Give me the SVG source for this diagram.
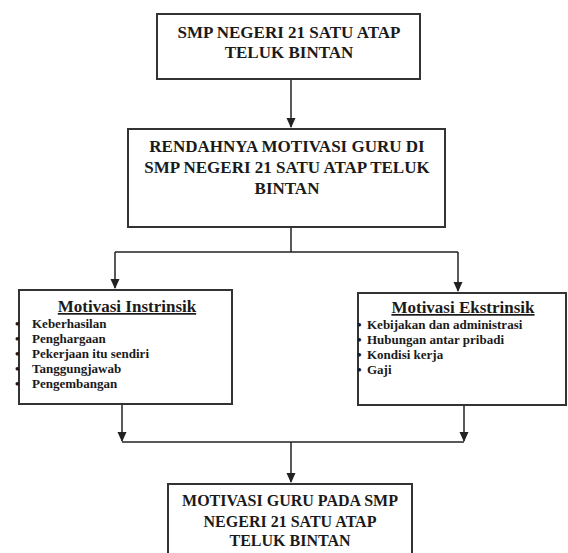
<svg xmlns="http://www.w3.org/2000/svg" width="568" height="553" viewBox="0 0 568 553">
<defs>
<marker id="arr" markerWidth="10" markerHeight="10" refX="9" refY="5" orient="auto" markerUnits="userSpaceOnUse" viewBox="0 0 10 10">
<path d="M0,0.5 L10,5 L0,9.5 Z" fill="#222"/>
</marker>
</defs>
<style>
.box{fill:#fff;stroke:#333;stroke-width:2}
.t{font-family:"Liberation Serif","Times New Roman",serif;font-weight:bold;fill:#1a1a1a}
.h{font-size:17px;text-anchor:middle}
.hb{font-size:16px;text-anchor:middle}
.ti{font-size:17px;text-anchor:middle;text-decoration:underline}
.li{font-size:13px}
.c{fill:none;stroke:#222;stroke-width:1.5}
</style>
<rect width="568" height="553" fill="#fff"/>
<g id="connectors">
<path class="c" d="M291,79 V127" marker-end="url(#arr)"/>
<path class="c" d="M291,227 V252"/>
<path class="c" d="M115,252 H458"/>
<path class="c" d="M115,252 V288" marker-end="url(#arr)"/>
<path class="c" d="M458,252 V291" marker-end="url(#arr)"/>
<path class="c" d="M122,405 V441" marker-end="url(#arr)"/>
<path class="c" d="M464,406 V441" marker-end="url(#arr)"/>
<path class="c" d="M122,442 H464"/>
<path class="c" d="M291,442 V482" marker-end="url(#arr)"/>
</g>
<g id="node-smp">
<rect class="box" x="157" y="14" width="263" height="65"/>
<text class="t h" x="289" y="38">SMP NEGERI 21 SATU ATAP</text>
<text class="t h" x="289" y="58">TELUK BINTAN</text>
</g>
<g id="node-rendah">
<rect class="box" x="128" y="129" width="317" height="98"/>
<text class="t h" x="287" y="152">RENDAHNYA MOTIVASI GURU DI</text>
<text class="t h" x="287" y="173">SMP NEGERI 21 SATU ATAP TELUK</text>
<text class="t h" x="287" y="194">BINTAN</text>
</g>
<g id="node-instrinsik">
<rect class="box" x="19" y="290" width="213" height="114"/>
<text class="t ti" x="127" y="312">Motivasi Instrinsik</text>
<g class="t li">
<text x="15" y="328">•<tspan x="32">Keberhasilan</tspan></text>
<text x="15" y="343">•<tspan x="32">Penghargaan</tspan></text>
<text x="15" y="358">•<tspan x="32">Pekerjaan itu sendiri</tspan></text>
<text x="15" y="373">•<tspan x="32">Tanggungjawab</tspan></text>
<text x="15" y="388">•<tspan x="32">Pengembangan</tspan></text>
</g>
</g>
<g id="node-ekstrinsik">
<rect class="box" x="358" y="293" width="208" height="112"/>
<text class="t ti" x="463" y="313">Motivasi Ekstrinsik</text>
<g class="t li">
<text x="357" y="329">•<tspan x="367">Kebijakan dan administrasi</tspan></text>
<text x="357" y="344">•<tspan x="367">Hubungan antar pribadi</tspan></text>
<text x="357" y="359">•<tspan x="367">Kondisi kerja</tspan></text>
<text x="357" y="374">•<tspan x="367">Gaji</tspan></text>
</g>
</g>
<g id="node-hasil">
<rect class="box" x="168" y="484" width="244" height="80"/>
<text class="t hb" x="290" y="506">MOTIVASI GURU PADA SMP</text>
<text class="t hb" x="290" y="527">NEGERI 21 SATU ATAP</text>
<text class="t hb" x="290" y="546">TELUK BINTAN</text>
</g>
</svg>
